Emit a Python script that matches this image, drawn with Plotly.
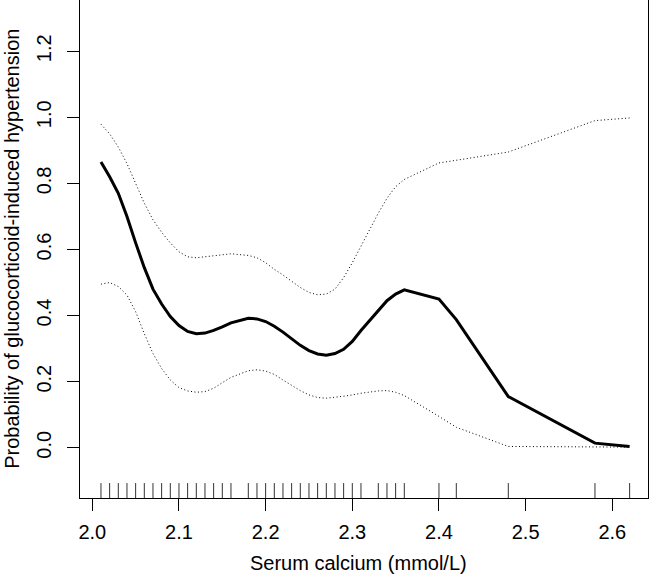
import plotly.graph_objects as go

# unique serum calcium values (rug) -- the curve is evaluated at these points
calcium = [2.01, 2.02, 2.03, 2.04, 2.05, 2.06, 2.07, 2.08, 2.09, 2.10,
           2.11, 2.12, 2.13, 2.14, 2.15, 2.16,
           2.18, 2.19, 2.20, 2.21, 2.22, 2.23, 2.24, 2.25, 2.26, 2.27,
           2.28, 2.29, 2.30, 2.31,
           2.33, 2.34, 2.35, 2.36, 2.40, 2.42, 2.48, 2.58, 2.62]

prob_fit = [0.865, 0.82, 0.77, 0.70, 0.62, 0.545, 0.48, 0.435, 0.397, 0.37,
            0.352, 0.345, 0.347, 0.355, 0.366, 0.378,
            0.392, 0.39, 0.382, 0.368, 0.35, 0.33, 0.31, 0.294, 0.284, 0.28,
            0.285, 0.298, 0.322, 0.355,
            0.415, 0.445, 0.465, 0.478, 0.45, 0.388, 0.155, 0.014, 0.004]

prob_upper = [0.979, 0.95, 0.91, 0.86, 0.80, 0.74, 0.69, 0.652, 0.62, 0.593,
              0.578, 0.575, 0.578, 0.581, 0.585, 0.587,
              0.582, 0.575, 0.56, 0.54, 0.523, 0.503, 0.485, 0.47, 0.463, 0.465,
              0.48, 0.515, 0.56, 0.61,
              0.71, 0.755, 0.79, 0.812, 0.862, 0.87, 0.895, 0.99, 0.998]

prob_lower = [0.495, 0.50, 0.488, 0.462, 0.412, 0.345, 0.285, 0.24, 0.205, 0.182,
              0.172, 0.168, 0.17, 0.18, 0.197, 0.213,
              0.233, 0.236, 0.232, 0.222, 0.205, 0.188, 0.173, 0.16, 0.152, 0.15,
              0.152, 0.156, 0.16, 0.165,
              0.172, 0.173, 0.168, 0.158, 0.095, 0.062, 0.004, 0.002, 0.002]

x_ticks = [2.0, 2.1, 2.2, 2.3, 2.4, 2.5, 2.6]
y_ticks = [0.0, 0.2, 0.4, 0.6, 0.8, 1.0, 1.2]

y_lo, y_hi = -0.152, 1.355
x_lo, x_hi = 1.9858, 2.6412
rug_len = 0.03 * (y_hi - y_lo)

rug_x, rug_y = [], []
for c in calcium:
    rug_x += [c, c, None]
    rug_y += [y_lo, y_lo + rug_len, None]

fig = go.Figure()
fig.add_trace(go.Scatter(x=rug_x, y=rug_y, mode="lines",
                         line=dict(color="#333333", width=1), hoverinfo="skip"))
fig.add_trace(go.Scatter(x=calcium, y=prob_upper, mode="lines",
                         line=dict(color="black", width=1, dash="1px,2.5px")))
fig.add_trace(go.Scatter(x=calcium, y=prob_lower, mode="lines",
                         line=dict(color="black", width=1, dash="1px,2.5px")))
fig.add_trace(go.Scatter(x=calcium, y=prob_fit, mode="lines",
                         line=dict(color="black", width=3)))

font = dict(family="Liberation Sans, Arial, sans-serif", size=20, color="black")

fig.update_layout(
    width=652, height=574,
    margin=dict(l=80, r=4, t=0, b=76),
    plot_bgcolor="white", paper_bgcolor="white",
    showlegend=False,
    font=font,
    xaxis=dict(range=[x_lo, x_hi], tickvals=x_ticks, ticktext=[f"{v:.1f}" for v in x_ticks],
               ticks="outside", ticklen=12, tickwidth=1, tickcolor="black",
               ticklabelstandoff=4,
               showline=True, linecolor="black", linewidth=1, mirror=True,
               showgrid=False, zeroline=False, automargin=False),
    yaxis=dict(range=[y_lo, y_hi], tickvals=y_ticks, ticktext=[f"{v:.1f}" for v in y_ticks],
               ticks="outside", ticklen=12, tickwidth=1, tickcolor="black", tickangle=-90,
               ticklabelstandoff=8,
               showline=True, linecolor="black", linewidth=1, mirror=True,
               showgrid=False, zeroline=False, automargin=False),
    annotations=[
        dict(text="Serum calcium (mmol/L)", xref="paper", yref="paper",
             x=0.49, y=-0.131, xanchor="center", yanchor="middle", showarrow=False),
        dict(text="Probability of glucocorticoid-induced hypertension", xref="paper", yref="paper",
             x=-0.12, y=0.5, xanchor="center", yanchor="middle", textangle=-90, showarrow=False),
    ],
)

# page body has an 8px default margin; drop it so the figure sits at 0,0
fig.write_html("out.html", config={"displayModeBar": False},
               post_script="document.body.style.margin='0';")
